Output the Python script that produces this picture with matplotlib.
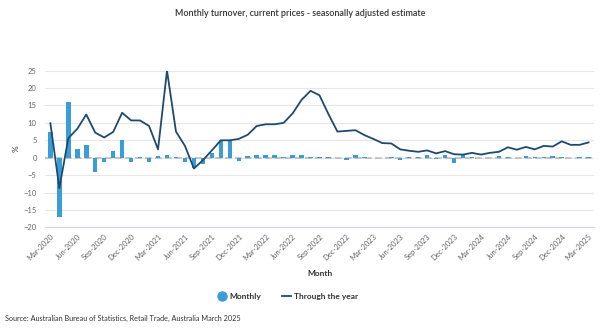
import matplotlib
matplotlib.use("Agg")
import matplotlib.pyplot as plt
from matplotlib.lines import Line2D
import numpy as np

plt.rcParams["font.family"] = ["Lato", "DejaVu Sans"]

# Months shown, Mar-2020 .. Mar-2025
months = []
names = ["Jan", "Feb", "Mar", "Apr", "May", "Jun", "Jul", "Aug", "Sep", "Oct", "Nov", "Dec"]
for k in range(61):
    m = (2 + k) % 12
    y = 2020 + (2 + k) // 12
    months.append(f"{names[m]}-{y}")

# Monthly % change (bars)
monthly = [7.4, -17.0, 16.0, 2.5, 3.7, -4.2, -1.2, 1.9, 5.0, -1.2, 0.1, -1.2,
           0.5, 0.7, 0.1, -1.1, -3.0, -1.9, 1.4, 5.0, 5.0, -1.0, 0.6, 0.7,
           0.7, 0.7, 0.1, 0.7, 0.7, 0.1, 0.3, 0.1, 0.0, -0.6, 0.7, 0.1,
           0.0, 0.0, 0.1, -0.6, 0.3, 0.1, 0.8, -0.5, 0.8, -1.6, 0.9, 0.1,
           -0.2, 0.0, 0.4, 0.2, 0.0, 0.4, 0.1, 0.2, 0.5, 0.1, 0.0, 0.2, 0.2]

# Through the year % change (line)
through_year = [9.9, -8.7, 5.6, 8.3, 12.4, 7.2, 5.8, 7.4, 12.9, 10.7, 10.7, 9.1,
                2.4, 25.0, 7.5, 3.4, -3.1, -0.7, 2.1, 5.0, 5.0, 5.4, 6.6, 9.1,
                9.6, 9.6, 10.0, 12.7, 16.6, 19.2, 17.9, 12.5, 7.5, 7.7, 7.9, 6.5,
                5.4, 4.2, 4.1, 2.4, 2.0, 1.7, 2.1, 1.25, 1.9, 1.0, 0.9, 1.4,
                0.9, 1.4, 1.7, 3.0, 2.3, 3.1, 2.4, 3.4, 3.2, 4.7, 3.7, 3.7, 4.4]

bar_color = "#3a9dd6"
line_color = "#1f4a6e"

fig = plt.figure(figsize=(6, 3.33), dpi=100)
ax = fig.add_axes([0.075, 0.317, 0.915, 0.471])

x = np.arange(len(months))
ax.axhline(0, color="#bbbbbb", lw=1.2, ls=(0, (4, 2)), zorder=1)
ax.bar(x, monthly, width=0.5, color=bar_color, zorder=2)
ax.plot(x, through_year, color=line_color, lw=1.3, zorder=3)

ax.set_xlim(-0.6, 60.6)
ax.set_ylim(-20, 25)
ax.set_yticks(np.arange(-20, 26, 5))
ax.grid(axis="y", color="#e6e6e6", lw=0.8)
ax.set_axisbelow(True)
for s in ["top", "right", "left"]:
    ax.spines[s].set_visible(False)
ax.spines["bottom"].set_color("#ccd6eb")
ax.spines["bottom"].set_position(("data", -20))

ax.set_xticks(x[::3])
ax.set_xticklabels(months[::3], rotation=45, ha="right", rotation_mode="anchor")
ax.tick_params(axis="x", length=0, labelsize=5.5, labelcolor="#666666", pad=4)
ax.tick_params(axis="y", length=0, labelsize=5.5, labelcolor="#666666", pad=6)

ax.set_ylabel("%", fontsize=6, color="#333333", labelpad=3)
ax.set_xlabel("Month", fontsize=6, fontweight="bold", color="#333333", labelpad=6)

fig.text(0.5, 0.958, "Monthly turnover, current prices - seasonally adjusted estimate",
         ha="center", va="center", fontsize=6.4, color="#333333", fontweight="semibold")

handles = [Line2D([], [], marker="o", ls="none", color=bar_color, markersize=6.5),
           Line2D([], [], color=line_color, lw=1.3)]
fig.legend(handles, ["Monthly", "Through the year"], loc="center",
           bbox_to_anchor=(0.48, 0.111), ncol=2, frameon=False,
           prop={"size": 6, "weight": "bold"}, handlelength=1.0, handletextpad=0.4,
           columnspacing=2.5, labelcolor="#333333")

fig.text(0.008, 0.045, "Source: Australian Bureau of Statistics, Retail Trade, Australia March 2025",
         ha="left", va="center", fontsize=5.2, color="#333333")

fig.savefig("out.png", dpi=100)
